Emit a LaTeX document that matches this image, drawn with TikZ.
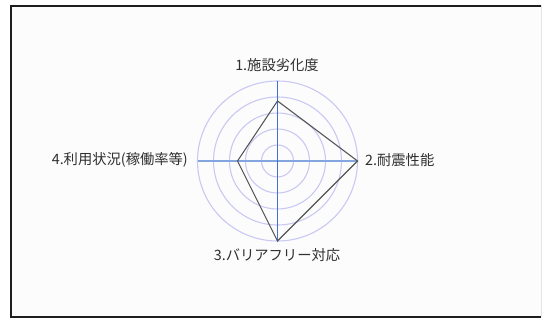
\documentclass[tikz,border=0pt]{standalone}
\usepackage{fontspec}
\newfontfamily\jpfont{Noto Sans CJK JP}
\definecolor{framebg}{HTML}{FCFCFC}
\definecolor{framedark}{HTML}{1E1E1E}
\definecolor{frameright}{HTML}{E4E4E4}
\definecolor{ringcol}{HTML}{C9C9F4}
\definecolor{axisv}{HTML}{3F72CF}
\definecolor{axish}{HTML}{84A6DE}
\definecolor{polycol}{HTML}{555555}
\definecolor{txtcol}{HTML}{303030}
\begin{document}
\begin{tikzpicture}[x=1pt,y=-1pt,
  ring/.style={draw=ringcol,line width=1.1pt},
  vaxis/.style={draw=axisv,line width=1.1pt},
  haxis/.style={draw=axish,line width=1.5pt},
  poly/.style={draw=polycol,line width=1.1pt,line join=miter},
  lbl/.style={font=\jpfont\fontsize{14.3}{16}\selectfont,text=txtcol,inner sep=0pt}]
\useasboundingbox (0,0) rectangle (542,320);
% frame
\fill[white] (0,0) rectangle (542,320);
\fill[framebg] (11,5.5) rectangle (541,317);
\draw[frameright,line width=1pt] (541,5.5) -- (541,317);
\draw[framedark,line width=1.6pt] (541,5.8) -- (11,5.8) -- (11,317) -- (541,317);
% geometry
\coordinate (c) at (277.5,161);
\coordinate (t) at (277.5,81);
\coordinate (r) at (357.5,161);
\coordinate (b) at (277.5,241);
\coordinate (l) at (197.5,161);
\foreach \rr in {16,32,48,64,80} \draw[ring] (c) circle (\rr);
\draw[haxis] (c) -- (r);
\draw[haxis] (c) -- (l);
\draw[vaxis] (c) -- (t);
\draw[vaxis] (c) -- (b);
\coordinate (p1) at (277.5,101);
\coordinate (p2) at (357.5,161);
\coordinate (p3) at (277.5,241);
\coordinate (p4) at (237.5,161);
\draw[poly] (p1) -- (p2) -- (p3) -- (p4) -- cycle;
% labels
\node[lbl,anchor=center] (n1) at (277,65) {1.施設劣化度};
\node[lbl,anchor=west] (n2) at (365,160) {2.耐震性能};
\node[lbl,anchor=center] (n3) at (277,255) {3.バリアフリー対応};
\node[lbl,anchor=east] (n4) at (188,160) {4.利用状況(稼働率等)};
\end{tikzpicture}
\end{document}
